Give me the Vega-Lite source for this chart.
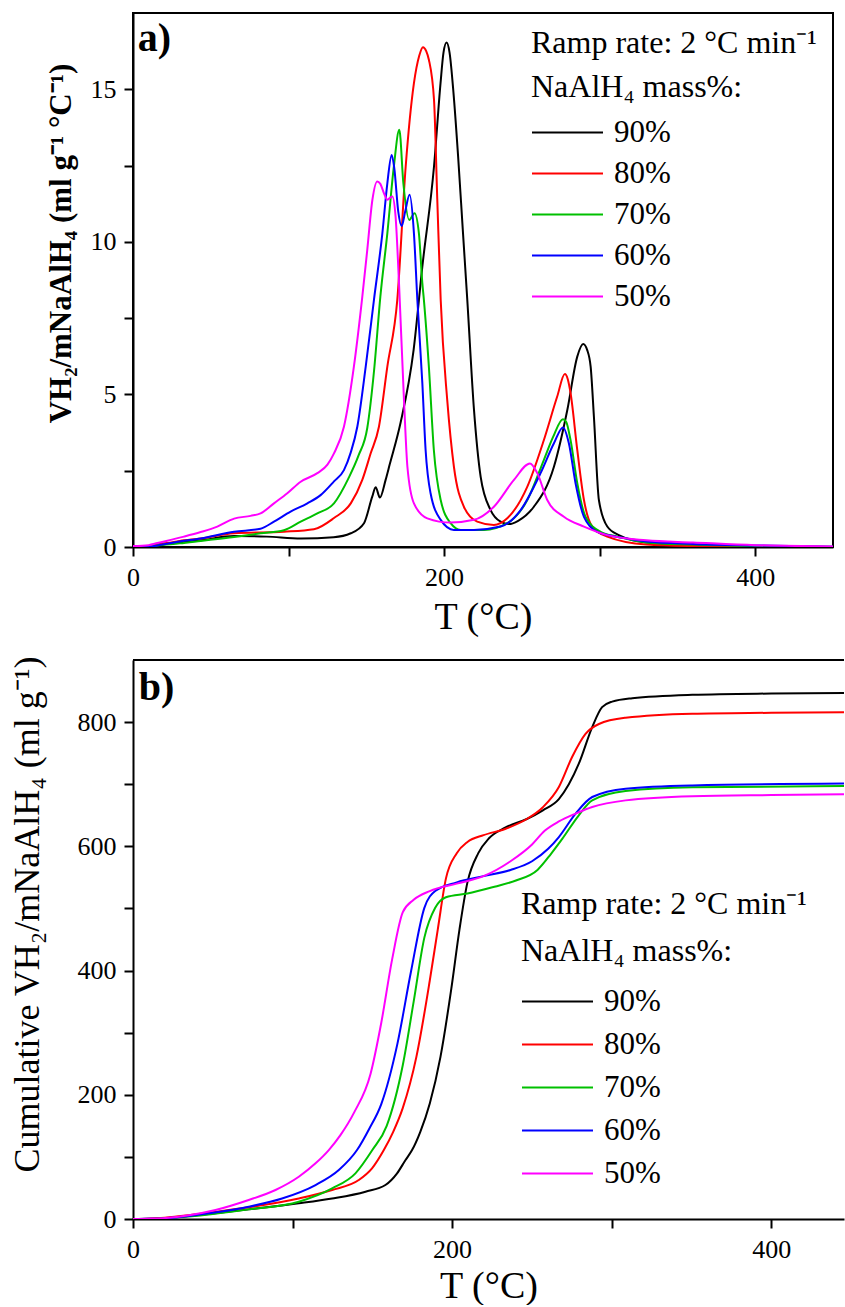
{
  "$schema": "https://vega.github.io/schema/vega-lite/v6.json",
  "background": "white",
  "padding": {"left": 8, "top": 12, "right": 0, "bottom": 0},
  "spacing": 113,
  "bounds": "flush",
  "config": {
    "font": "'Liberation Serif', 'Times New Roman', 'DejaVu Serif', serif",
    "view": {"stroke": "black", "strokeWidth": 2},
    "axis": {"grid": false, "domainColor": "black", "domainWidth": 2, "tickColor": "black", "tickWidth": 2, "tickSize": 9, "labelFont": "'Liberation Serif', 'Times New Roman', serif", "labelFontSize": 26, "labelColor": "black", "labelPadding": 8, "labelFlush": false, "labelOverlap": false, "titleFont": "'Liberation Serif', 'Times New Roman', serif", "titleColor": "black", "titleFontWeight": "normal"},
    "legend": {"titleFont": "'Liberation Serif', 'Times New Roman', serif", "labelFont": "'Liberation Serif', 'Times New Roman', serif"}
  },
  "resolve": {"scale": {"color": "independent"}, "legend": {"color": "independent"}},
  "datasets": {
    "a": [
      {"m":"90%","T":0,"V":0},{"m":"90%","T":10,"V":0.02},{"m":"90%","T":15,"V":0.07},{"m":"90%","T":30,"V":0.15},{"m":"90%","T":43.5,"V":0.22},{"m":"90%","T":65,"V":0.36},{"m":"90%","T":86,"V":0.34},{"m":"90%","T":108,"V":0.28},{"m":"90%","T":129,"V":0.32},{"m":"90%","T":140,"V":0.45},{"m":"90%","T":148.5,"V":0.78},{"m":"90%","T":153.8,"V":1.65},{"m":"90%","T":156,"V":1.96},{"m":"90%","T":158.7,"V":1.62},{"m":"90%","T":162.4,"V":2.2},{"m":"90%","T":165,"V":2.7},{"m":"90%","T":172,"V":4.07},{"m":"90%","T":180.4,"V":6.46},{"m":"90%","T":186,"V":9.19},{"m":"90%","T":193.5,"V":12.47},{"m":"90%","T":197.7,"V":15.2},{"m":"90%","T":199.6,"V":16.2},{"m":"90%","T":201.6,"V":16.53},{"m":"90%","T":203.5,"V":16.2},{"m":"90%","T":206,"V":14.9},{"m":"90%","T":209,"V":12.8},{"m":"90%","T":212,"V":10.4},{"m":"90%","T":214.9,"V":8.1},{"m":"90%","T":219.2,"V":4.5},{"m":"90%","T":223.5,"V":2.3},{"m":"90%","T":229.9,"V":1.21},{"m":"90%","T":236.3,"V":0.83},{"m":"90%","T":241.7,"V":0.75},{"m":"90%","T":247.6,"V":0.86},{"m":"90%","T":257.7,"V":1.32},{"m":"90%","T":270.6,"V":2.63},{"m":"90%","T":279.2,"V":4.49},{"m":"90%","T":285.6,"V":6.24},{"m":"90%","T":289.4,"V":6.65},{"m":"90%","T":292,"V":6.45},{"m":"90%","T":294.2,"V":5.91},{"m":"90%","T":296.3,"V":4.27},{"m":"90%","T":299.5,"V":1.54},{"m":"90%","T":304.9,"V":0.67},{"m":"90%","T":312.3,"V":0.39},{"m":"90%","T":330,"V":0.15},{"m":"90%","T":360,"V":0.06},{"m":"90%","T":400,"V":0.02},{"m":"90%","T":450,"V":0},
      {"m":"80%","T":0,"V":0},{"m":"80%","T":10,"V":0.02},{"m":"80%","T":15.7,"V":0.07},{"m":"80%","T":30,"V":0.2},{"m":"80%","T":43.5,"V":0.28},{"m":"80%","T":65,"V":0.45},{"m":"80%","T":97,"V":0.5},{"m":"80%","T":116.3,"V":0.58},{"m":"80%","T":129.2,"V":0.95},{"m":"80%","T":140,"V":1.43},{"m":"80%","T":147.4,"V":2.2},{"m":"80%","T":152.8,"V":3.07},{"m":"80%","T":158.1,"V":3.94},{"m":"80%","T":163.5,"V":5.91},{"m":"80%","T":169.9,"V":8.1},{"m":"80%","T":175.3,"V":12.47},{"m":"80%","T":180.6,"V":15.2},{"m":"80%","T":184,"V":16.1},{"m":"80%","T":186.4,"V":16.38},{"m":"80%","T":188.5,"V":16.25},{"m":"80%","T":190.2,"V":15.97},{"m":"80%","T":193.5,"V":14.66},{"m":"80%","T":195.6,"V":11.4},{"m":"80%","T":197.8,"V":8.1},{"m":"80%","T":202,"V":4.82},{"m":"80%","T":206.3,"V":2.63},{"m":"80%","T":212.7,"V":1.32},{"m":"80%","T":221.3,"V":0.83},{"m":"80%","T":232,"V":0.72},{"m":"80%","T":240.6,"V":0.94},{"m":"80%","T":253.5,"V":1.98},{"m":"80%","T":264.1,"V":3.5},{"m":"80%","T":272.7,"V":4.93},{"m":"80%","T":277.6,"V":5.67},{"m":"80%","T":279.5,"V":5.5},{"m":"80%","T":281.3,"V":5.04},{"m":"80%","T":285.6,"V":3.18},{"m":"80%","T":289.9,"V":1.54},{"m":"80%","T":295.2,"V":0.67},{"m":"80%","T":304.9,"V":0.34},{"m":"80%","T":330,"V":0.08},{"m":"80%","T":360,"V":0.03},{"m":"80%","T":400,"V":0.01},{"m":"80%","T":450,"V":0},
      {"m":"70%","T":0,"V":0},{"m":"70%","T":10,"V":0.01},{"m":"70%","T":15.7,"V":0.05},{"m":"70%","T":30,"V":0.12},{"m":"70%","T":43.5,"V":0.2},{"m":"70%","T":65,"V":0.33},{"m":"70%","T":82,"V":0.45},{"m":"70%","T":97,"V":0.55},{"m":"70%","T":107.8,"V":0.83},{"m":"70%","T":118.5,"V":1.1},{"m":"70%","T":129.2,"V":1.43},{"m":"70%","T":138.5,"V":2.25},{"m":"70%","T":145,"V":3.0},{"m":"70%","T":150.6,"V":3.9},{"m":"70%","T":155,"V":5.8},{"m":"70%","T":159,"V":8.2},{"m":"70%","T":163.5,"V":10.28},{"m":"70%","T":167.7,"V":12.47},{"m":"70%","T":171.2,"V":13.67},{"m":"70%","T":173.8,"V":11.92},{"m":"70%","T":177.6,"V":10.72},{"m":"70%","T":181,"V":10.94},{"m":"70%","T":183.8,"V":10.28},{"m":"70%","T":186,"V":8.65},{"m":"70%","T":187,"V":8.1},{"m":"70%","T":190.2,"V":5.91},{"m":"70%","T":193.4,"V":3.18},{"m":"70%","T":197.8,"V":1.54},{"m":"70%","T":204.2,"V":0.78},{"m":"70%","T":210.6,"V":0.56},{"m":"70%","T":225.6,"V":0.56},{"m":"70%","T":240.6,"V":0.78},{"m":"70%","T":253.5,"V":1.54},{"m":"70%","T":264.1,"V":2.85},{"m":"70%","T":270,"V":3.6},{"m":"70%","T":276.4,"V":4.19},{"m":"70%","T":278.5,"V":4.1},{"m":"70%","T":281.3,"V":3.5},{"m":"70%","T":285.6,"V":2.09},{"m":"70%","T":290.9,"V":0.99},{"m":"70%","T":300.6,"V":0.5},{"m":"70%","T":311.3,"V":0.34},{"m":"70%","T":330,"V":0.15},{"m":"70%","T":360,"V":0.08},{"m":"70%","T":400,"V":0.03},{"m":"70%","T":450,"V":0.01},
      {"m":"60%","T":0,"V":0},{"m":"60%","T":10,"V":0.01},{"m":"60%","T":15.7,"V":0.05},{"m":"60%","T":30,"V":0.18},{"m":"60%","T":43.5,"V":0.28},{"m":"60%","T":65,"V":0.5},{"m":"60%","T":82,"V":0.6},{"m":"60%","T":90.6,"V":0.83},{"m":"60%","T":101.3,"V":1.16},{"m":"60%","T":112.1,"V":1.43},{"m":"60%","T":120.6,"V":1.7},{"m":"60%","T":129.2,"V":2.15},{"m":"60%","T":135.6,"V":2.52},{"m":"60%","T":140,"V":3.1},{"m":"60%","T":144.2,"V":3.94},{"m":"60%","T":149.6,"V":5.91},{"m":"60%","T":154.9,"V":8.1},{"m":"60%","T":160.3,"V":10.28},{"m":"60%","T":163.5,"V":11.92},{"m":"60%","T":166.3,"V":12.85},{"m":"60%","T":168,"V":12.4},{"m":"60%","T":170.5,"V":11.0},{"m":"60%","T":172.7,"V":10.52},{"m":"60%","T":175,"V":11.0},{"m":"60%","T":177.8,"V":11.54},{"m":"60%","T":180.6,"V":10.28},{"m":"60%","T":182.8,"V":8.1},{"m":"60%","T":186,"V":5.37},{"m":"60%","T":188.1,"V":3.18},{"m":"60%","T":191.3,"V":1.76},{"m":"60%","T":197.8,"V":0.89},{"m":"60%","T":206.3,"V":0.56},{"m":"60%","T":219.2,"V":0.56},{"m":"60%","T":236.3,"V":0.67},{"m":"60%","T":249.2,"V":1.21},{"m":"60%","T":262,"V":2.42},{"m":"60%","T":270.6,"V":3.4},{"m":"60%","T":276.4,"V":3.92},{"m":"60%","T":280.2,"V":3.4},{"m":"60%","T":284.5,"V":2.09},{"m":"60%","T":289.9,"V":0.99},{"m":"60%","T":298.4,"V":0.5},{"m":"60%","T":315,"V":0.3},{"m":"60%","T":330,"V":0.18},{"m":"60%","T":360,"V":0.1},{"m":"60%","T":400,"V":0.05},{"m":"60%","T":450,"V":0.01},
      {"m":"50%","T":0,"V":0.03},{"m":"50%","T":10,"V":0.06},{"m":"50%","T":15.7,"V":0.13},{"m":"50%","T":32.8,"V":0.34},{"m":"50%","T":43.5,"V":0.49},{"m":"50%","T":54.2,"V":0.67},{"m":"50%","T":65,"V":0.93},{"m":"50%","T":75.6,"V":1.02},{"m":"50%","T":82,"V":1.1},{"m":"50%","T":90.6,"V":1.43},{"m":"50%","T":99.2,"V":1.76},{"m":"50%","T":107.8,"V":2.14},{"m":"50%","T":118.5,"V":2.42},{"m":"50%","T":125,"V":2.7},{"m":"50%","T":129.2,"V":3.07},{"m":"50%","T":135.6,"V":3.94},{"m":"50%","T":142,"V":5.91},{"m":"50%","T":147.4,"V":8.2},{"m":"50%","T":150.6,"V":9.74},{"m":"50%","T":153.9,"V":11.38},{"m":"50%","T":157,"V":11.98},{"m":"50%","T":159,"V":11.9},{"m":"50%","T":161.3,"V":11.6},{"m":"50%","T":163.5,"V":11.38},{"m":"50%","T":166.7,"V":11.49},{"m":"50%","T":168.8,"V":10.83},{"m":"50%","T":171,"V":8.65},{"m":"50%","T":174.2,"V":4.82},{"m":"50%","T":176.4,"V":2.63},{"m":"50%","T":180.6,"V":1.43},{"m":"50%","T":189.2,"V":0.94},{"m":"50%","T":204.2,"V":0.8},{"m":"50%","T":219.2,"V":0.89},{"m":"50%","T":232,"V":1.32},{"m":"50%","T":244.9,"V":2.2},{"m":"50%","T":255.2,"V":2.74},{"m":"50%","T":259.9,"V":2.42},{"m":"50%","T":266.3,"V":1.54},{"m":"50%","T":277,"V":0.99},{"m":"50%","T":289.9,"V":0.67},{"m":"50%","T":304.9,"V":0.39},{"m":"50%","T":330,"V":0.22},{"m":"50%","T":360,"V":0.15},{"m":"50%","T":400,"V":0.06},{"m":"50%","T":450,"V":0.02}
    ],
    "b": [
      {"m":"90%","T":0,"C":0},{"m":"90%","T":10,"C":0.3},{"m":"90%","T":20,"C":1.5},{"m":"90%","T":35,"C":5},{"m":"90%","T":50,"C":9},{"m":"90%","T":72.5,"C":15.5},{"m":"90%","T":103.9,"C":25.2},{"m":"90%","T":124.8,"C":33},{"m":"90%","T":145.7,"C":44},{"m":"90%","T":158.2,"C":54.7},{"m":"90%","T":165.5,"C":73.5},{"m":"90%","T":170.8,"C":95},{"m":"90%","T":174.9,"C":111},{"m":"90%","T":180,"C":140},{"m":"90%","T":186,"C":186},{"m":"90%","T":192.7,"C":261},{"m":"90%","T":199.5,"C":371},{"m":"90%","T":204.6,"C":466},{"m":"90%","T":209.6,"C":542},{"m":"90%","T":216.4,"C":589},{"m":"90%","T":223.1,"C":613},{"m":"90%","T":233.2,"C":630},{"m":"90%","T":246.8,"C":644},{"m":"90%","T":256.9,"C":658},{"m":"90%","T":266.9,"C":676},{"m":"90%","T":279.4,"C":733},{"m":"90%","T":287.8,"C":792},{"m":"90%","T":294,"C":824},{"m":"90%","T":300.3,"C":833},{"m":"90%","T":312.9,"C":838.6},{"m":"90%","T":350.5,"C":844},{"m":"90%","T":400,"C":846},{"m":"90%","T":445.6,"C":846.7},
      {"m":"80%","T":0,"C":0},{"m":"80%","T":10,"C":0.5},{"m":"80%","T":20,"C":2},{"m":"80%","T":35,"C":6},{"m":"80%","T":50,"C":11},{"m":"80%","T":72.5,"C":18.8},{"m":"80%","T":103.9,"C":33},{"m":"80%","T":124.8,"C":46.7},{"m":"80%","T":141.5,"C":62.7},{"m":"80%","T":149.8,"C":81.5},{"m":"80%","T":157.2,"C":111},{"m":"80%","T":163,"C":140},{"m":"80%","T":169.1,"C":179},{"m":"80%","T":177.6,"C":261},{"m":"80%","T":186,"C":384},{"m":"80%","T":191,"C":466},{"m":"80%","T":196.1,"C":548},{"m":"80%","T":202.9,"C":589},{"m":"80%","T":209.6,"C":607},{"m":"80%","T":219.7,"C":618},{"m":"80%","T":233.2,"C":628},{"m":"80%","T":246.8,"C":644},{"m":"80%","T":256.9,"C":663},{"m":"80%","T":266.9,"C":695.5},{"m":"80%","T":275.2,"C":743.8},{"m":"80%","T":283.6,"C":781},{"m":"80%","T":292,"C":797},{"m":"80%","T":308.7,"C":807},{"m":"80%","T":350.5,"C":813.5},{"m":"80%","T":400,"C":815},{"m":"80%","T":445.6,"C":816},
      {"m":"70%","T":0,"C":0},{"m":"70%","T":10,"C":0.2},{"m":"70%","T":20,"C":1},{"m":"70%","T":35,"C":4},{"m":"70%","T":50,"C":8},{"m":"70%","T":72.5,"C":15.5},{"m":"70%","T":103.9,"C":27.9},{"m":"70%","T":124.8,"C":49.3},{"m":"70%","T":139.4,"C":73.5},{"m":"70%","T":150,"C":111},{"m":"70%","T":159,"C":150},{"m":"70%","T":169.1,"C":248},{"m":"70%","T":175.9,"C":350},{"m":"70%","T":182.6,"C":453},{"m":"70%","T":189.4,"C":501},{"m":"70%","T":196.1,"C":518},{"m":"70%","T":209.6,"C":524},{"m":"70%","T":226.5,"C":535},{"m":"70%","T":240,"C":545},{"m":"70%","T":253.5,"C":562},{"m":"70%","T":262,"C":588},{"m":"70%","T":269,"C":612},{"m":"70%","T":279.4,"C":650},{"m":"70%","T":287.8,"C":674},{"m":"70%","T":308.7,"C":689},{"m":"70%","T":350.5,"C":695},{"m":"70%","T":445.6,"C":697},
      {"m":"60%","T":0,"C":0},{"m":"60%","T":10,"C":0.3},{"m":"60%","T":20,"C":1},{"m":"60%","T":35,"C":5},{"m":"60%","T":50,"C":10},{"m":"60%","T":72.5,"C":19.8},{"m":"60%","T":93.4,"C":33},{"m":"60%","T":114.4,"C":54.7},{"m":"60%","T":129,"C":78.8},{"m":"60%","T":140.4,"C":111},{"m":"60%","T":148,"C":145},{"m":"60%","T":155.6,"C":185},{"m":"60%","T":165.7,"C":282},{"m":"60%","T":174.2,"C":398},{"m":"60%","T":182.6,"C":501},{"m":"60%","T":189.4,"C":528},{"m":"60%","T":202.9,"C":542},{"m":"60%","T":219.7,"C":552},{"m":"60%","T":236.6,"C":562},{"m":"60%","T":250.1,"C":576},{"m":"60%","T":260.2,"C":596},{"m":"60%","T":266.9,"C":615},{"m":"60%","T":277.4,"C":652.7},{"m":"60%","T":287.8,"C":679.4},{"m":"60%","T":308.7,"C":692.9},{"m":"60%","T":350.5,"C":698},{"m":"60%","T":445.6,"C":701},
      {"m":"50%","T":0,"C":0},{"m":"50%","T":10,"C":0.5},{"m":"50%","T":20.3,"C":1.5},{"m":"50%","T":35,"C":6},{"m":"50%","T":51.7,"C":14.5},{"m":"50%","T":72.5,"C":30.6},{"m":"50%","T":89.3,"C":46.7},{"m":"50%","T":103.9,"C":68},{"m":"50%","T":114.4,"C":89.6},{"m":"50%","T":122.7,"C":111},{"m":"50%","T":130,"C":135},{"m":"50%","T":138.7,"C":172},{"m":"50%","T":148.9,"C":234},{"m":"50%","T":155.6,"C":316},{"m":"50%","T":162.4,"C":418},{"m":"50%","T":169.1,"C":494},{"m":"50%","T":175.9,"C":514},{"m":"50%","T":186,"C":528},{"m":"50%","T":202.9,"C":540},{"m":"50%","T":219.7,"C":552},{"m":"50%","T":236.6,"C":576},{"m":"50%","T":250.1,"C":603},{"m":"50%","T":258,"C":625},{"m":"50%","T":266.9,"C":640},{"m":"50%","T":277.4,"C":652.7},{"m":"50%","T":287.8,"C":663.4},{"m":"50%","T":308.7,"C":674},{"m":"50%","T":350.5,"C":680.6},{"m":"50%","T":400,"C":682.5},{"m":"50%","T":445.6,"C":683.7}
    ]
  },
  "vconcat": [
    {
      "width": 700,
      "height": 534,
      "layer": [
        {
          "data": {"name": "a"},
          "mark": {"type": "line", "strokeWidth": 2, "interpolate": "monotone", "clip": true},
          "encoding": {
            "x": {"field": "T", "type": "quantitative", "scale": {"domain": [0, 450], "nice": false, "zero": false},
                  "axis": {"values": [0, 100, 200, 300, 400], "labelExpr": "datum.value % 200 === 0 ? datum.label : ''", "title": "T (°C)", "titleFontSize": 38, "titleBaseline": "alphabetic", "titleY": 81}},
            "y": {"field": "V", "type": "quantitative", "scale": {"domain": [0, 17.5], "nice": false, "zero": false},
                  "axis": {"values": [0, 2.5, 5, 7.5, 10, 12.5, 15], "labelExpr": "datum.value % 5 === 0 ? datum.label : ''", "title": "VH₂/mNaAlH₄ (ml g⁻¹ °C⁻¹)", "titleFontSize": 31, "titleFontWeight": "bold", "titleAngle": -90, "titleAlign": "center", "titleBaseline": "alphabetic", "titleX": -63, "titleY": 230}},
            "color": {"field": "m", "type": "nominal",
                      "scale": {"domain": ["90%", "80%", "70%", "60%", "50%"], "range": ["#000000", "#FF0000", "#00C000", "#0000FF", "#FF00FF"]},
                      "legend": {"orient": "none", "legendX": 398, "legendY": 15, "title": ["Ramp rate: 2 °C min⁻¹", "NaAlH₄ mass%:"], "titleFontSize": 32, "titleFontWeight": "normal", "titleColor": "black", "titleLineHeight": 43.5, "titleLimit": 500, "titlePadding": 14, "labelFontSize": 31, "labelColor": "black", "labelOffset": 10, "symbolType": "stroke", "symbolSize": 5041, "symbolStrokeWidth": 2, "clipHeight": 30, "rowPadding": 10, "padding": 0}}
          }
        },
        {
          "data": {"values": [{"T": 3, "V": 16.24, "t": "a)"}]},
          "mark": {"type": "text", "font": "'Liberation Serif', 'Times New Roman', serif", "fontWeight": "bold", "fontSize": 40, "align": "left", "baseline": "alphabetic", "color": "black"},
          "encoding": {"x": {"field": "T", "type": "quantitative"}, "y": {"field": "V", "type": "quantitative"}, "text": {"field": "t"}}
        }
      ]
    },
    {
      "width": 711,
      "height": 559,
      "view": {"stroke": null},
      "layer": [
        {
          "data": {"name": "b"},
          "mark": {"type": "line", "strokeWidth": 2, "interpolate": "monotone", "clip": true},
          "encoding": {
            "x": {"field": "T", "type": "quantitative", "scale": {"domain": [0, 445.6], "nice": false, "zero": false},
                  "axis": {"values": [0, 100, 200, 300, 400], "labelExpr": "datum.value % 200 === 0 ? datum.label : ''", "title": "T (°C)", "titleFontSize": 38, "titleBaseline": "alphabetic", "titleY": 78}},
            "y": {"field": "C", "type": "quantitative", "scale": {"domain": [0, 900], "nice": false, "zero": false},
                  "axis": {"values": [0, 100, 200, 300, 400, 500, 600, 700, 800], "labelExpr": "datum.value % 200 === 0 ? datum.label : ''", "title": "Cumulative VH₂/mNaAlH₄ (ml g⁻¹)", "titleFontSize": 36, "titleAngle": -90, "titleAlign": "center", "titleBaseline": "alphabetic", "titleX": -95, "titleY": 254}},
            "color": {"field": "m", "type": "nominal",
                      "scale": {"domain": ["90%", "80%", "70%", "60%", "50%"], "range": ["#000000", "#FF0000", "#00C000", "#0000FF", "#FF00FF"]},
                      "legend": {"orient": "none", "legendX": 388, "legendY": 229, "title": ["Ramp rate: 2 °C min⁻¹", "NaAlH₄ mass%:"], "titleFontSize": 32, "titleFontWeight": "normal", "titleColor": "black", "titleLineHeight": 46.5, "titleLimit": 500, "titlePadding": 19, "labelFontSize": 31, "labelColor": "black", "labelOffset": 10, "symbolType": "stroke", "symbolSize": 5041, "symbolStrokeWidth": 2, "clipHeight": 30, "rowPadding": 12, "padding": 0}}
          }
        },
        {
          "data": {"values": [{"Y": 900}]},
          "mark": {"type": "rule", "strokeWidth": 2, "color": "black"},
          "encoding": {"y": {"field": "Y", "type": "quantitative"}}
        },
        {
          "data": {"values": [{"T": 3.6, "C": 835, "t": "b)"}]},
          "mark": {"type": "text", "font": "'Liberation Serif', 'Times New Roman', serif", "fontWeight": "bold", "fontSize": 40, "align": "left", "baseline": "alphabetic", "color": "black"},
          "encoding": {"x": {"field": "T", "type": "quantitative"}, "y": {"field": "C", "type": "quantitative"}, "text": {"field": "t"}}
        }
      ]
    }
  ]
}
